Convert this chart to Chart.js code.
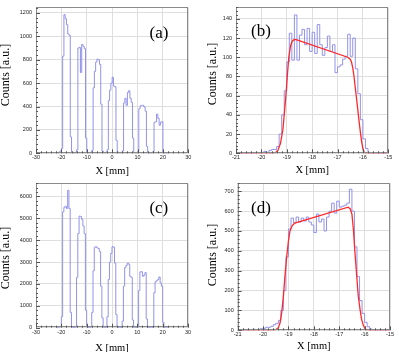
<!DOCTYPE html>
<html>
<head>
<meta charset="utf-8">
<script src="https://cdn.jsdelivr.net/npm/chart.js@4.4.1/dist/chart.umd.min.js"></script>
<style>
body { margin: 0; background: #fff; width: 399px; height: 352px; position: relative; overflow: hidden; }
canvas { position: absolute; }
</style>
</head>
<body>
<canvas id="chartA" width="200" height="176" style="left:0;top:0"></canvas>
<canvas id="chartB" width="199" height="176" style="left:200px;top:0"></canvas>
<canvas id="chartC" width="200" height="176" style="left:0;top:176px"></canvas>
<canvas id="chartD" width="199" height="176" style="left:200px;top:176px"></canvas>
<script>
// wide scans (a) and (c): 0.5 mm bins starting at -22 mm
const wideStart = -22;
const wideBin = 0.5;
const countsA = [0, 0, 10, 20, 40, 830, 1185, 1150, 1100, 1020, 1010, 140, 10, 0,
  0, 10, 30, 900, 905, 690, 930, 915, 895, 130, 5, 0,
  0, 10, 25, 560, 700, 780, 805, 800, 760, 420, 20, 0,
  0, 10, 30, 450, 540, 600, 650, 575, 570, 110, 10, 0,
  0, 5, 20, 430, 470, 410, 520, 535, 470, 435, 130, 5,
  0, 0, 15, 380, 405, 410, 410, 395, 360, 60, 5, 0,
  0, 5, 15, 265, 270, 335, 300, 240, 265, 270, 10, 0, 0, 0];
const countsC = [0, 0, 30, 60, 500, 5300, 5500, 5550, 5450, 6280, 5450, 700, 30, 0,
  0, 40, 2300, 4300, 5100, 5080, 4950, 4650, 4300, 800, 30, 0,
  0, 30, 700, 2600, 3680, 3700, 3650, 3620, 3480, 1900, 450, 20,
  0, 20, 500, 2200, 3000, 3400, 3700, 3680, 2950, 600, 20, 0,
  0, 20, 300, 1900, 2750, 2850, 2950, 2900, 2350, 2300, 350, 0,
  0, 0, 30, 1700, 2550, 2560, 2350, 2400, 2520, 400, 20, 0,
  0, 0, 30, 1600, 2100, 2150, 2200, 2320, 2050, 1900, 250, 0, 0, 0];

// zoomed slit (b) and (d): 0.1 mm bins starting at -21 mm
const narrowStart = -21;
const narrowBin = 0.1;
const countsB = [0, 0, 0, 0, 0, 0, 0, 0, 1, 0,
  1, 2, 1, 3, 4, 4, 7, 20, 40, 65,
  95, 125, 97, 144, 97, 123, 129, 113, 130, 106,
  126, 104, 134, 113, 102, 110, 122, 106, 113, 84,
  90, 92, 98, 101, 124, 101, 120, 88, 62, 35,
  15, 5, 1, 0, 0, 0, 0, 0, 0, 0];
const countsD = [0, 0, 2, 0, 3, 2, 5, 3, 5, 8,
  10, 15, 15, 20, 28, 35, 50, 100, 200, 370,
  510, 565, 540, 570, 545, 565, 550, 570, 545, 530,
  492, 585, 545, 560, 500, 570, 600, 640, 590, 650,
  620, 625, 630, 640, 710, 600, 420, 270, 150, 85,
  40, 18, 6, 2, 0, 0, 0, 0, 0, 0];

// fitted curves
const fitBX = [-21, -19.55, -19.45, -19.35, -19.25, -19.15, -19.05, -18.98, -18.92, -18.85, -18.78, -18.7, -18.6,
  -16.6, -16.5, -16.45, -16.4, -16.35, -16.3, -16.25, -16.2, -16.15, -16.1, -16.05, -16.0, -15.95, -15.9, -15];
const fitBY = [0, 0, 0.5, 3, 10, 25, 55, 80, 100, 112, 117, 118.5, 118,
  100, 98, 95, 89, 80, 68, 57, 45, 33, 22, 12, 5, 1, 0, 0];
const fitDX = [-21, -19.6, -19.5, -19.4, -19.33, -19.27, -19.2, -19.14, -19.07, -19.0, -18.94, -18.85, -18.75,
  -16.65, -16.57, -16.5, -16.44, -16.38, -16.31, -16.25, -16.18, -16.12, -16.05, -15.98, -15.88, -15];
const fitDY = [0, 0, 3, 13, 38, 85, 170, 270, 370, 450, 500, 527, 540,
  620, 612, 585, 505, 390, 272, 172, 105, 55, 25, 8, 0, 0];

// axis ticks
const wideXTicks = [-30, -20, -10, 0, 10, 20, 30];
const narrowXTicks = [-21, -20, -19, -18, -17, -16, -15];
const yTicksA = [0, 200, 400, 600, 800, 1000, 1200];
const yTicksB = [0, 20, 40, 60, 80, 100, 120, 140];
const yTicksC = [0, 1000, 2000, 3000, 4000, 5000, 6000];
const yTicksD = [0, 100, 200, 300, 400, 500, 600, 700];

const histColor = 'rgb(146,146,236)';
const fitColor = 'rgb(255,40,40)';

function histPoints(start, width, counts) {
  const pts = counts.map((c, i) => ({ x: +(start + i * width).toFixed(2), y: c }));
  pts.push({ x: +(start + counts.length * width).toFixed(2), y: counts[counts.length - 1] });
  return pts;
}

const framePlugin = {
  id: 'frame',
  afterDraw(chart, args, o) {
    const { ctx, chartArea: a } = chart;
    const xs = chart.scales.x, ys = chart.scales.y;
    ctx.save();
    ctx.strokeStyle = '#8a8a8a';
    ctx.lineWidth = 1;
    ctx.strokeRect(Math.round(a.left) + 0.5, Math.round(a.top) + 0.5,
      Math.round(a.right - a.left) - 1, Math.round(a.bottom - a.top) - 1);
    // ROOT style inward ticks
    ctx.strokeStyle = '#555';
    ctx.beginPath();
    for (let v = xs.min, k = 0; v <= xs.max + 1e-9; v = xs.min + (++k) * o.xMinor) {
      const px = Math.round(xs.getPixelForValue(v)) + 0.5;
      const len = k % 5 === 0 ? 4 : 2;
      ctx.moveTo(px, a.bottom);
      ctx.lineTo(px, a.bottom - len);
    }
    for (let v = 0, k = 0; v <= ys.max + 1e-9; v = (++k) * o.yMinor) {
      const py = Math.round(ys.getPixelForValue(v)) + 0.5;
      const len = k % 5 === 0 ? 4 : 2;
      ctx.moveTo(a.left, py);
      ctx.lineTo(a.left + len, py);
    }
    ctx.stroke();
    ctx.fillStyle = '#000';
    ctx.textAlign = 'center';
    ctx.textBaseline = 'middle';
    ctx.font = '17px "Liberation Serif"';
    ctx.fillText(o.tag, a.left + o.tagX * (a.right - a.left), a.top + o.tagY * (a.bottom - a.top));
    // y title
    ctx.font = '12px "Liberation Serif"';
    ctx.translate(o.yTitleX, o.yTitleY);
    ctx.rotate(-Math.PI / 2);
    ctx.fillText('Counts [a.u.]', 0, 0);
    ctx.restore();
  }
};

function makePanel(id, p) {
  const datasets = [];
  if (p.fitX) {
    datasets.push({
      data: p.fitX.map((x, i) => ({ x, y: p.fitY[i] })),
      borderColor: fitColor, borderWidth: 1.3, pointRadius: 0, tension: 0, fill: false
    });
  }
  datasets.push({
    data: histPoints(p.start, p.bin, p.counts),
    borderColor: histColor, borderWidth: 1, pointRadius: 0, stepped: 'before', fill: false
  });
  const tickFont = { family: '"Liberation Sans"', size: 5.5 };
  return new Chart(document.getElementById(id), {
    type: 'line',
    data: { datasets },
    options: {
      responsive: false,
      animation: false,
      layout: { padding: { top: p.padTop, right: p.padRight, left: 0, bottom: 0 } },
      plugins: {
        legend: { display: false },
        tooltip: { enabled: false },
        frame: { tag: p.tag, tagX: p.tagX, tagY: p.tagY, xMinor: p.xMinor, yMinor: p.yTicks[1] / 5,
          yTitleX: p.yTitleX, yTitleY: p.yTitleY }
      },
      scales: {
        x: {
          type: 'linear', min: p.xTicks[0], max: p.xTicks[p.xTicks.length - 1],
          afterBuildTicks: s => { s.ticks = p.xTicks.map(v => ({ value: v })); },
          ticks: { font: tickFont, color: '#222', padding: 1, maxRotation: 0, autoSkip: false,
            callback: v => String(v) },
          grid: { color: '#dedede', drawTicks: false },
          border: { display: false },
          title: { display: true, text: 'X [mm]', color: '#000',
            font: { family: '"Liberation Serif"', size: 10.5, lineHeight: 1 },
            padding: { top: 0, bottom: p.xTitlePad } },
          afterFit: s => { s.height = p.xH; }
        },
        y: {
          min: 0, max: p.yMax,
          afterBuildTicks: s => { s.ticks = p.yTicks.map(v => ({ value: v })); },
          ticks: { font: tickFont, color: '#222', padding: 4, autoSkip: false,
            callback: v => String(v) },
          grid: { color: '#dedede', drawTicks: false },
          border: { display: false },
          afterFit: s => { s.width = p.yW; }
        }
      }
    },
    plugins: [framePlugin]
  });
}

makePanel('chartA', { start: wideStart, bin: wideBin, counts: countsA,
  xTicks: wideXTicks, xMinor: 2, yTicks: yTicksA, yMax: 1248,
  padTop: 6, padRight: 11.7, yW: 36, xH: 22.7, xTitlePad: 0,
  yTitleX: 6, yTitleY: 75, tag: '(a)', tagX: 0.808, tagY: 0.177 });
makePanel('chartB', { start: narrowStart, bin: narrowBin, counts: countsB, fitX: fitBX, fitY: fitBY,
  xTicks: narrowXTicks, xMinor: 0.2, yTicks: yTicksB, yMax: 152,
  padTop: 5.5, padRight: 10.7, yW: 36, xH: 22.7, xTitlePad: 0.75,
  yTitleX: 12.5, yTitleY: 74, tag: '(b)', tagX: 0.164, tagY: 0.166 });
makePanel('chartC', { start: wideStart, bin: wideBin, counts: countsC,
  xTicks: wideXTicks, xMinor: 2, yTicks: yTicksC, yMax: 6600,
  padTop: 6, padRight: 12, yW: 36, xH: 24.3, xTitlePad: -1,
  yTitleX: 6, yTitleY: 82, tag: '(c)', tagX: 0.808, tagY: 0.178 });
makePanel('chartD', { start: narrowStart, bin: narrowBin, counts: countsD, fitX: fitDX, fitY: fitDY,
  xTicks: narrowXTicks, xMinor: 0.2, yTicks: yTicksD, yMax: 740,
  padTop: 6, padRight: 9, yW: 37.7, xH: 21.7, xTitlePad: 0.75,
  yTitleX: 12.5, yTitleY: 79, tag: '(d)', tagX: 0.153, tagY: 0.169 });
</script>
</body>
</html>
